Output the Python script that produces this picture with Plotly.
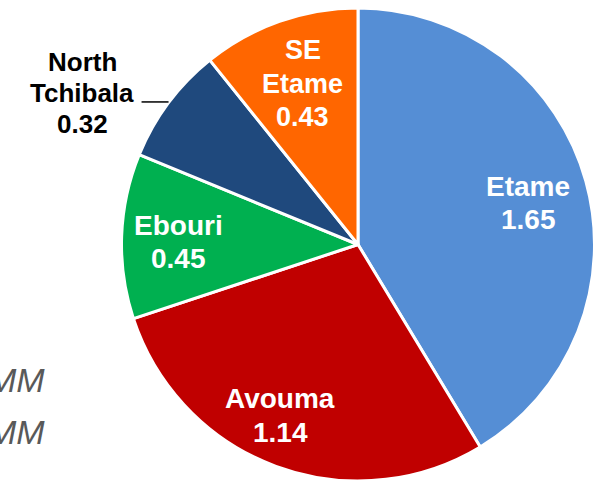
import math
import plotly.graph_objects as go

# ---- data ----
fields = ["Etame", "Avouma", "Ebouri", "North Tchibala", "SE Etame"]
label_lines = [["Etame"], ["Avouma"], ["Ebouri"], ["North", "Tchibala"], ["SE", "Etame"]]
values = [1.65, 1.14, 0.45, 0.32, 0.43]
colors = ["#558ED5", "#C00000", "#00B050", "#1F497D", "#FF6600"]
side_text = ["MM", "MM"]

# ---- layout constants (pixels) ----
W, H = 599, 481
CX, CY, R = 358.0, 244.5, 236.5
# per-slice label placement: radial fraction and angle nudge (deg)
label_rfrac = [0.741, 0.794, 0.760, None, 0.719]
label_dang = [1.8, 4.1, -1.3, 0.0, 0.35]
label_size = [28, 28, 28, 26, 27]
LINE_GAP = 33.5


def px2paper(x, y):
    return x / W, 1 - y / H


fig = go.Figure()
fig.add_trace(go.Pie(
    labels=fields,
    values=values,
    sort=False,
    direction="clockwise",
    rotation=0,
    marker=dict(colors=colors, line=dict(color="white", width=3)),
    textinfo="none",
    hoverinfo="label+value",
    showlegend=False,
    domain=dict(x=[(CX - R) / W, (CX + R) / W], y=[1 - (CY + R) / H, 1 - (CY - R) / H]),
))


def add_block(lines, cx, cy, gap, size, color):
    n = len(lines)
    for k, ln in enumerate(lines):
        yy = cy + (k - (n - 1) / 2) * gap
        tx, ty = px2paper(cx, yy)
        annotations.append(dict(x=tx, y=ty, xref="paper", yref="paper", text=ln,
                                showarrow=False, xanchor="center", yanchor="middle",
                                font=dict(family="Liberation Sans, Arial", size=size,
                                          color=color, weight="bold")))


total = sum(values)
annotations = []
shapes = []
cum = 0.0
for i, (name, lines, v) in enumerate(zip(fields, label_lines, values)):
    a0 = cum / total * 360
    cum += v
    a1 = cum / total * 360
    mid = (a0 + a1) / 2
    block = lines + [f"{v:.2f}"]
    if label_rfrac[i] is None:
        # outside label with short leader line
        ang = math.radians(mid)
        ex, ey = CX + R * math.sin(ang), CY - R * math.cos(ang)
        sx = ex - 27
        x0p, y0p = px2paper(sx, ey - 1)
        x1p, y1p = px2paper(ex, ey - 1)
        shapes.append(dict(type="line", xref="paper", yref="paper",
                           x0=x0p, y0=y0p, x1=x1p, y1=y1p,
                           line=dict(color="black", width=1.5)))
        add_block(block, sx - 59.2, ey - 9.8, 31, label_size[i], "black")
    else:
        ang = math.radians(mid + label_dang[i])
        rr = R * label_rfrac[i]
        lx, ly = CX + rr * math.sin(ang), CY - rr * math.cos(ang)
        add_block(block, lx, ly, LINE_GAP, label_size[i], "white")

for j, t in enumerate(side_text):
    tx, ty = px2paper(47, 380 + j * 51.5)
    annotations.append(dict(x=tx, y=ty, xref="paper", yref="paper", text=f"<i>{t}</i>",
                            showarrow=False, xanchor="right", yanchor="middle",
                            font=dict(family="Liberation Sans, Arial", size=34,
                                      color="#595959")))

fig.update_layout(
    width=W, height=H,
    margin=dict(l=0, r=0, t=0, b=0),
    paper_bgcolor="white",
    plot_bgcolor="white",
    annotations=annotations,
    shapes=shapes,
)

fig.write_html("out.html", config={"displayModeBar": False},
               post_script="document.body.style.margin='0';")
